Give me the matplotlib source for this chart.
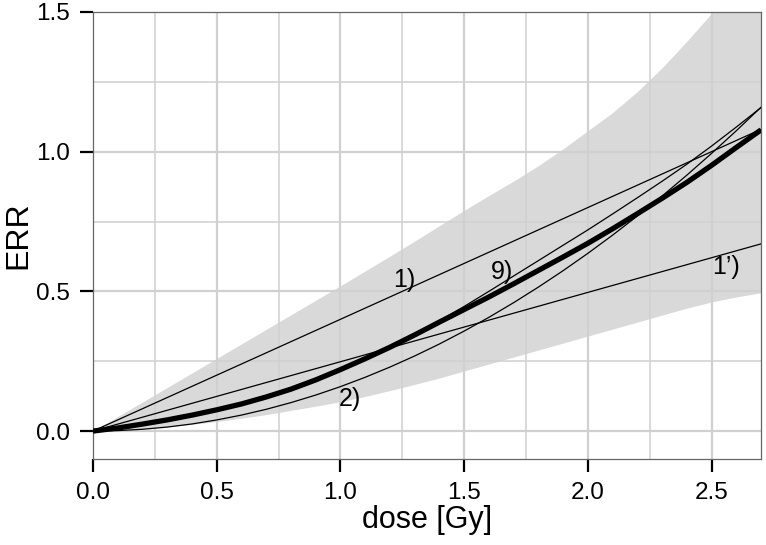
import matplotlib
matplotlib.use('Agg')
import matplotlib.pyplot as plt
import numpy as np

plt.rcParams['font.family'] = ['Liberation Sans', 'DejaVu Sans']

# dose grid [Gy] and curves
dose = [0.0, 0.1, 0.2, 0.3, 0.4, 0.5, 0.6, 0.7, 0.8, 0.9,
        1.0, 1.1, 1.2, 1.3, 1.4, 1.5, 1.6, 1.7, 1.8, 1.9,
        2.0, 2.1, 2.2, 2.3, 2.4, 2.5, 2.6, 2.7]

band_upper = [0.0, 0.052, 0.104, 0.156, 0.208, 0.26, 0.312, 0.364, 0.416, 0.468,
              0.52, 0.573, 0.626, 0.68, 0.735, 0.79, 0.843, 0.895, 0.95, 1.01,
              1.075, 1.14, 1.215, 1.30, 1.395, 1.495, 1.60, 1.71]
band_lower = [0.0, 0.003, 0.008, 0.015, 0.024, 0.034, 0.046, 0.059, 0.074, 0.089,
              0.105, 0.124, 0.145, 0.167, 0.19, 0.215, 0.24, 0.265, 0.29, 0.315,
              0.34, 0.365, 0.39, 0.415, 0.44, 0.462, 0.48, 0.495]

err_main = [0.0, 0.011, 0.025, 0.040, 0.057, 0.076, 0.097, 0.122, 0.150, 0.183,
            0.220, 0.259, 0.300, 0.344, 0.390, 0.435, 0.480, 0.527, 0.575, 0.623,
            0.672, 0.724, 0.778, 0.833, 0.890, 0.951, 1.015, 1.078]
err_9 = [0.0, 0.013, 0.028, 0.044, 0.061, 0.080, 0.102, 0.127, 0.155, 0.188,
         0.224, 0.263, 0.304, 0.348, 0.395, 0.446, 0.50, 0.555, 0.61, 0.665,
         0.72, 0.777, 0.835, 0.894, 0.955, 1.02, 1.088, 1.158]
err_2 = [0.0, 0.0016, 0.0064, 0.0143, 0.0254, 0.0398, 0.0572, 0.0779, 0.1018, 0.1288,
         0.159, 0.1924, 0.229, 0.2687, 0.3116, 0.3578, 0.407, 0.4595, 0.5152, 0.574,
         0.636, 0.7012, 0.7696, 0.8411, 0.9158, 0.9938, 1.0748, 1.1591]

# straight-line models
dose_lin = [0.0, 2.7]
err_1 = [0.0, 1.08]
err_1p = [0.0, 0.67]

labels = ['1)', '1\u2019)', '2)', '9)']
label_x = [1.26, 2.56, 1.04, 1.655]
label_y = [0.54, 0.586, 0.114, 0.571]

fig = plt.figure(figsize=(7.66, 5.45), dpi=100)
ax = fig.add_axes([93/766, 1 - 459/545, 668/766, 447/545])

ax.fill_between(dose, band_lower, band_upper, color='#d9d9d9', lw=0, zorder=1)

# grid every 0.25, a bit heavier on the labelled values
for v in np.arange(0.25, 2.7, 0.25):
    major = abs(v * 2 - round(v * 2)) < 1e-9
    ax.axvline(v, color='#d0d0d0', lw=1.6 if major else 1.1, zorder=2)
for v in np.arange(0.0, 1.5, 0.25):
    major = abs(v * 2 - round(v * 2)) < 1e-9
    ax.axhline(v, color='#d0d0d0', lw=1.6 if major else 1.1, zorder=2)

ax.plot(dose_lin, err_1, color='black', lw=0.9, zorder=3)
ax.plot(dose_lin, err_1p, color='black', lw=0.9, zorder=3)
ax.plot(dose, err_2, color='black', lw=0.9, zorder=3)
ax.plot(dose, err_9, color='black', lw=0.9, zorder=3)
ax.plot(dose, err_main, color='black', lw=3.8, zorder=4, solid_capstyle='butt')

for t, x, y in zip(labels, label_x, label_y):
    ax.text(x, y, t, fontsize=18, ha='center', va='center', zorder=5)

ax.set_xlim(0, 2.7)
ax.set_ylim(-0.1, 1.5)
ax.set_xticks([0.0, 0.5, 1.0, 1.5, 2.0, 2.5])
ax.set_yticks([0.0, 0.5, 1.0, 1.5])
ax.set_xticklabels(['0.0', '0.5', '1.0', '1.5', '2.0', '2.5'])
ax.set_yticklabels(['0.0', '0.5', '1.0', '1.5'])
ax.tick_params(direction='out', length=9.5, width=1.6, labelsize=17.5, pad=7)
for s in ax.spines.values():
    s.set_color('#666666')
    s.set_linewidth(0.9)

ax.set_xlabel('dose [Gy]', fontsize=22)
ax.xaxis.set_label_coords(0.5, -0.102)
ax.set_ylabel('ERR', fontsize=23)
ax.yaxis.set_label_coords(-0.09, 0.5)

fig.savefig('out.png', dpi=100)
